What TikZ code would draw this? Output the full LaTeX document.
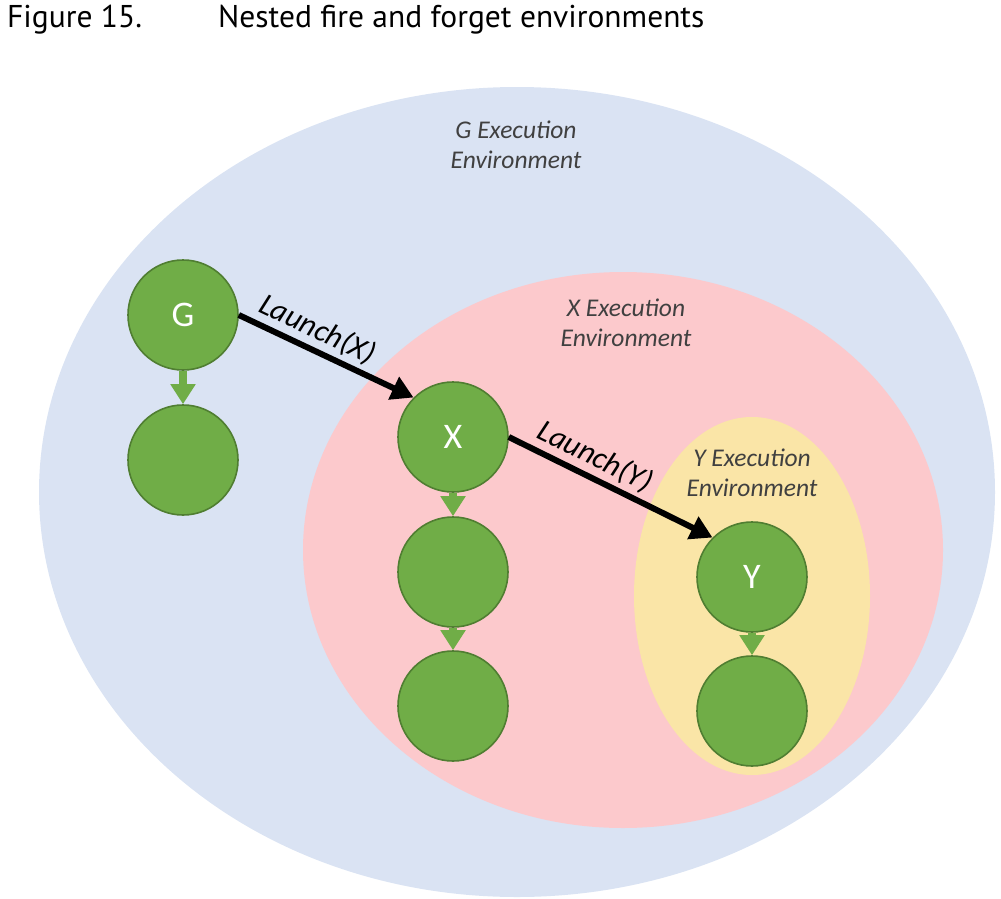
\documentclass[tikz,border=0pt]{standalone}
\usepackage{fontspec}
\setmainfont{Carlito}
\newfontfamily\titlefont{PT Sans}
\usetikzlibrary{arrows.meta}
\definecolor{envblue}{HTML}{DAE3F3}
\definecolor{envpink}{HTML}{FCC9CC}
\definecolor{envyellow}{HTML}{FAE5A7}
\definecolor{nodegreen}{HTML}{70AD47}
\definecolor{nodeborder}{HTML}{507E32}
\definecolor{labelgrey}{HTML}{404040}
\tikzset{
  proc/.style={circle, fill=nodegreen, draw=nodeborder, line width=1.6pt, minimum size=110pt, inner sep=0pt, text=white, font=\fontsize{36}{36}\selectfont},
  envlabel/.style={align=center, text=labelgrey, font=\fontsize{25.5}{30}\selectfont\itshape},
  flow/.style={draw=nodegreen, line width=8pt, -{Triangle[length=20pt,width=24pt]}},
  launch/.style={draw=black, line width=6pt, -{Triangle[length=22pt,width=24pt]}},
  launchlabel/.style={sloped, above, font=\fontsize{31}{31}\selectfont\itshape, inner sep=4pt},
  titletext/.style={anchor=base west, inner sep=0pt, font=\titlefont\fontsize{31.5}{31.5}\selectfont}
}
\begin{document}
\begin{tikzpicture}[x=1pt,y=-1pt]
\useasboundingbox (0,0) rectangle (1001,899);
\node[titletext] (fig) at (7,28) {Figure 15.};
\node[titletext] (cap) at (218,28) {Nested fire and forget environments};
\fill[envblue] (517,492) ellipse [x radius=478, y radius=405];
\fill[envpink] (623,550) ellipse [x radius=320, y radius=278];
\fill[envyellow] (752,596) ellipse [x radius=118, y radius=179];
\node[envlabel] (genv) at (516,145) {G Execution\\Environment};
\node[envlabel] (xenv) at (626,323) {X Execution\\Environment};
\node[envlabel] (yenv) at (752,473) {Y Execution\\Environment};
\node[proc] (G) at (183,315) {G};
\node[proc] (G2) at (183,460) {};
\node[proc] (X) at (453,437) {X};
\node[proc] (X2) at (453,572) {};
\node[proc] (X3) at (453,706) {};
\node[proc] (Y) at (752,577) {Y};
\node[proc] (Y2) at (752,711) {};
\draw[flow] (G) -- (G2);
\draw[flow] (X) -- (X2);
\draw[flow] (X2) -- (X3);
\draw[flow] (Y) -- (Y2);
\draw[launch] (G.east) -- node[launchlabel, pos=0.40] (lx) {Launch(X)} (X.north west);
\draw[launch] (X.east) -- node[launchlabel, pos=0.38] (ly) {Launch(Y)} (Y.north west);
\end{tikzpicture}
\end{document}
